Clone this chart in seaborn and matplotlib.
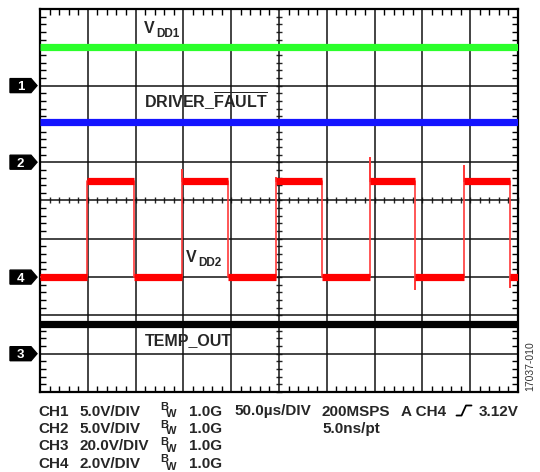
import numpy as np
import pandas as pd
import matplotlib
matplotlib.use("Agg")
import matplotlib.pyplot as plt
import matplotlib.transforms as mtransforms
from matplotlib.patches import Polygon
from matplotlib.lines import Line2D
from matplotlib.ticker import MultipleLocator
import seaborn as sns

# ---------------- data ----------------
time_per_div_us = 50.0          # 50.0 µs/DIV
n_div = 10

channel_names = ["CH1", "CH2", "CH3", "CH4"]
volts_per_div = [5.0, 5.0, 20.0, 2.0]
ground_div = [8.0, 6.0, 1.0, 3.0]          # ground marker positions (div from bottom)
marker_labels = ["1", "2", "3", "4"]

# flat traces (time µs, volts)
vdd1_t = [0.0, 500.0]
vdd1_v = [5.1, 5.1]
fault_t = [0.0, 500.0]
fault_v = [5.2, 5.2]
temp_t = [0.0, 500.0]
temp_v = [15.6, 15.6]

# VDD2 square wave: edge times (µs), level after each edge (V), peak at edge (V)
vdd2_start_level = 0.0
vdd2_edge_t = [49.0, 98.0, 148.5, 197.0, 247.0, 295.0, 345.0, 392.5, 444.0, 492.0]
vdd2_level = [5.0, 0.0, 5.0, 0.0, 5.0, 0.0, 5.0, 0.0, 5.0, 0.0]
vdd2_peak = [5.0, 0.0, 5.6, 0.0, 5.2, 0.0, 6.2, -0.6, 5.8, -0.5]

trace_labels = [("V", "DD1"), ("DRIVER_", "FAULT"), ("V", "DD2"), ("TEMP_OUT", "")]

info_rows = [["CH1", "5.0V/DIV", "1.0G", "50.0µs/DIV", "200MSPS", "A CH4", "3.12V"],
             ["CH2", "5.0V/DIV", "1.0G", "", "5.0ns/pt", "", ""],
             ["CH3", "20.0V/DIV", "1.0G", "", "", "", ""],
             ["CH4", "2.0V/DIV", "1.0G", "", "", "", ""]]
fig_id = "17037-010"

# ---------------- style ----------------
sns.set_style("white")
plt.rcParams["font.family"] = ["Liberation Sans", "DejaVu Sans"]
plt.rcParams["font.weight"] = "bold"
plt.rcParams["mathtext.fontset"] = "custom"
plt.rcParams["mathtext.bf"] = "Liberation Sans:bold"
plt.rcParams["mathtext.rm"] = "Liberation Sans:bold"
plt.rcParams["mathtext.it"] = "Liberation Sans:bold"

W, H = 540, 472
fig = plt.figure(figsize=(W / 100, H / 100), dpi=100)
ax_l, ax_t, ax_r, ax_b = 40, 9, 518, 392
ax = fig.add_axes([ax_l / W, 1 - ax_b / H, (ax_r - ax_l) / W, (ax_b - ax_t) / H])
ax.set_xlim(0, n_div)
ax.set_ylim(0, n_div)


def to_df(t, v, ch):
    return pd.DataFrame({"x": np.asarray(t) / time_per_div_us,
                         "y": ground_div[ch] + np.asarray(v) / volts_per_div[ch]})


# flat traces
lw_trace = 5.2
for t, v, ch, col in [(vdd1_t, vdd1_v, 0, "#2BFF2B"),
                      (fault_t, fault_v, 1, "#1414FF"),
                      (temp_t, temp_v, 2, "#000000")]:
    sns.lineplot(data=to_df(t, v, ch), x="x", y="y", ax=ax, color=col,
                 lw=lw_trace, estimator=None, sort=False, zorder=5,
                 solid_capstyle="butt")

# VDD2: thin full waveform including edges and spikes
wt, wv = [0.0], [vdd2_start_level]
prev = vdd2_start_level
for et, lv, pk in zip(vdd2_edge_t, vdd2_level, vdd2_peak):
    wt += [et, et, et]
    wv += [prev, pk, lv]
    prev = lv
wt.append(500.0)
wv.append(prev)
sns.lineplot(data=to_df(wt, wv, 3), x="x", y="y", ax=ax, color="#FF3A3A",
             lw=1.2, estimator=None, sort=False, zorder=5)

# VDD2: thick flat segments
seg_t, seg_v, seg_id = [], [], []
starts = [0.0] + vdd2_edge_t
ends = vdd2_edge_t + [500.0]
levels = [vdd2_start_level] + vdd2_level
for i, (s, e, lv) in enumerate(zip(starts, ends, levels)):
    seg_t += [s, e]
    seg_v += [lv, lv]
    seg_id += [i, i]
segdf = to_df(seg_t, seg_v, 3)
segdf["seg"] = seg_id
sns.lineplot(data=segdf, x="x", y="y", units="seg", ax=ax, color="#FF0000",
             lw=lw_trace, estimator=None, sort=False, zorder=5,
             solid_capstyle="butt")

# ---------------- graticule ----------------
ax.set_xticks(range(n_div + 1))
ax.set_yticks(range(n_div + 1))
ax.set_xticklabels([])
ax.set_yticklabels([])
ax.xaxis.set_minor_locator(MultipleLocator(0.2))
ax.yaxis.set_minor_locator(MultipleLocator(0.2))
ax.tick_params(which="major", length=0)
ax.tick_params(which="minor", direction="in", length=4, width=1.0, color="black",
               top=True, right=True, bottom=True, left=True)
ax.grid(True, which="major", color="#111111", lw=1.1, zorder=1)
ax.set_axisbelow(True)
ax.set_xlabel("")
ax.set_ylabel("")
for sp in ax.spines.values():
    sp.set_linewidth(1.6)
    sp.set_color("black")

sx = ax.secondary_xaxis(0.5)
sx.xaxis.set_major_locator(MultipleLocator(0.2))
sx.tick_params(axis="x", direction="inout", length=5, width=1.0,
               labelbottom=False, labeltop=False)
sx.spines[:].set_visible(False)
sy = ax.secondary_yaxis(0.5)
sy.yaxis.set_major_locator(MultipleLocator(0.2))
sy.tick_params(axis="y", direction="inout", length=5, width=1.0,
               labelleft=False, labelright=False)
sy.spines[:].set_visible(False)

# ---------------- trace labels ----------------
def px2div(px, py):
    return ((px - ax_l) / (ax_r - ax_l) * n_div, (ax_b - py) / (ax_b - ax_t) * n_div)

# V_DD1
x, y = px2div(144, 33.5); ax.text(x, y, trace_labels[0][0], fontsize=11.5, va="baseline", zorder=6)
x, y = px2div(156.5, 37.5); ax.text(x, y, trace_labels[0][1], fontsize=8.5, va="baseline", zorder=6)
# DRIVER_FAULT (overlined FAULT)
x, y = px2div(144, 108)
ax.text(x, y, trace_labels[1][0] + r"$\overline{\mathbf{" + trace_labels[1][1] + "}}$",
        fontsize=11.5, va="baseline", zorder=6)
# V_DD2
x, y = px2div(186, 261.5); ax.text(x, y, trace_labels[2][0], fontsize=11.5, va="baseline", zorder=6)
x, y = px2div(198.5, 265.5); ax.text(x, y, trace_labels[2][1], fontsize=8.5, va="baseline", zorder=6)
# TEMP_OUT
x, y = px2div(145, 345); ax.text(x, y, trace_labels[3][0], fontsize=11.5, va="baseline", zorder=6)

# ---------------- channel ground markers ----------------
blend = mtransforms.blended_transform_factory(fig.transFigure, ax.transData)
hh = 7 / ((ax_b - ax_t) / n_div)
for g, lab in zip(ground_div, marker_labels):
    pts = [(10 / W, g - hh), (31 / W, g - hh), (37 / W, g), (31 / W, g + hh), (10 / W, g + hh)]
    poly = Polygon(pts, closed=True, transform=blend, facecolor="black",
                   edgecolor="black", clip_on=False)
    fig.add_artist(poly)
    fig.text(20.5 / W, g, lab, transform=blend, color="white", fontsize=9.5,
             fontweight="bold", ha="center", va="center_baseline")

# ---------------- bottom info text ----------------
def ftext(px, py, s, **kw):
    fig.text(px / W, 1 - py / H, s, fontweight="bold", **kw)

fs = 11
col_x = [38, 79, 189, 234, 322, 401, 479]
base_y = [415.5, 433.0, 450.5, 468.0]
for row, by in zip(info_rows, base_y):
    for cx, s in zip(col_x, row):
        if s:
            ftext(cx, by, s, fontsize=fs, ha="left", va="baseline")
    ftext(160, by - 5.5, "B", fontsize=8, ha="left", va="baseline")
    ftext(166, by + 1.5, "W", fontsize=8, ha="left", va="baseline")

# trigger symbol
tx = np.array([456.5, 461.5, 466.0, 471.5])
ty = np.array([415.5, 415.5, 405.5, 405.5])
fig.add_artist(Line2D(tx / W, 1 - ty / H, transform=fig.transFigure, color="black", lw=1.3))

fig.text(530 / W, 1 - 366 / H, fig_id, rotation=90, fontsize=7.5, color="#333333",
         fontweight="normal", ha="center", va="center")

fig.savefig("out.png", dpi=100)
